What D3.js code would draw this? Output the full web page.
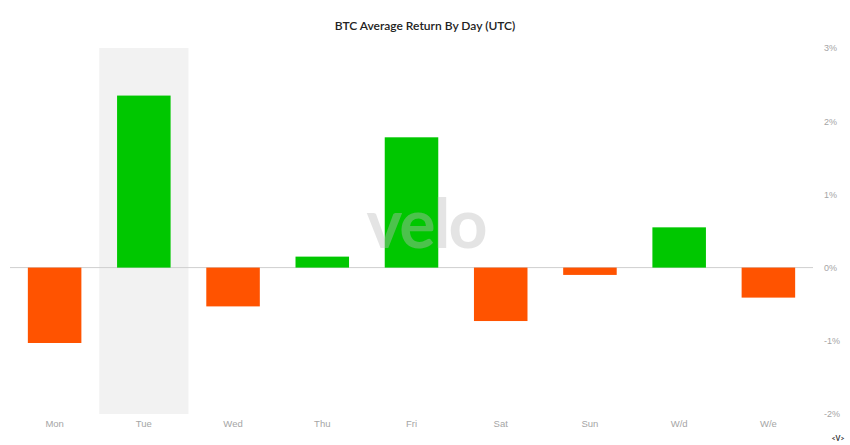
<!DOCTYPE html>
<html><head><meta charset="utf-8">
<script src="https://cdn.jsdelivr.net/npm/d3@7"></script>
<style>body{margin:0;background:#fff;}svg{display:block;font-family:Lato, "Noto Sans", sans-serif;}</style>
</head><body><svg id="c" width="850" height="445"></svg>
<script>
const categories = ["Mon","Tue","Wed","Thu","Fri","Sat","Sun","W/d","W/e"];
const values = [-1.03, 2.35, -0.53, 0.15, 1.78, -0.73, -0.10, 0.55, -0.41];
const tickValues = [3, 2, 1, 0, -1, -2];
const highlighted = "Tue";

const svg = d3.select("#c");
const x = d3.scaleBand().domain(categories).range([10, 813]).paddingInner(0.4).paddingOuter(0.2);
const y = d3.scaleLinear().domain([-2, 3]).range([414, 48]);

// highlight band
const step = x.step();
svg.append("rect").attr("x", x(highlighted) - step*0.2).attr("y", y(3)).attr("width", step).attr("height", y(-2)-y(3)).attr("fill","#f2f2f2");

// zero line
svg.append("line").attr("x1",10).attr("x2",813).attr("y1",y(0)).attr("y2",y(0)).attr("stroke","#cfcfcf").attr("stroke-width",1);

// bars
svg.selectAll("rect.bar").data(categories).enter().append("rect").attr("class","bar")
  .attr("x", d=>x(d)).attr("width", x.bandwidth())
  .attr("y", (d,i)=> values[i]>=0 ? y(values[i]) : y(0))
  .attr("height", (d,i)=> Math.abs(y(values[i])-y(0)))
  .attr("fill", (d,i)=> values[i]>=0 ? "#00c700" : "#ff5300");

// watermark
svg.append("text").attr("x",426).attr("y",248).attr("text-anchor","middle")
  .attr("font-size",68).attr("font-weight",700).attr("fill","#bdbdbd").attr("opacity",0.4)
  .attr("letter-spacing",-2).text("velo");

// right axis
const ya = d3.axisRight(y).tickValues(tickValues).tickSize(0).tickPadding(0).tickFormat(d=>d+"%");
const gy = svg.append("g").attr("transform","translate(824,0)").call(ya);
gy.select(".domain").remove();
gy.selectAll("text").attr("fill","#a5a5a5").attr("font-size",9);

// bottom axis
const xa = d3.axisBottom(x).tickSize(0).tickPadding(0);
const gx = svg.append("g").attr("transform","translate(0,420)").call(xa);
gx.select(".domain").remove();
gx.selectAll("text").attr("fill","#a5a5a5").attr("font-size",9.5);

// title
svg.append("text").attr("x",425).attr("y",30).attr("text-anchor","middle").attr("font-size",12)
  .attr("font-weight",600).attr("fill","#222").text("BTC Average Return By Day (UTC)");

svg.append("text").attr("x",838).attr("y",441).attr("text-anchor","middle").attr("font-size",7)
  .attr("font-weight",700).attr("fill","#333").text("<V>");
</script></body></html>
